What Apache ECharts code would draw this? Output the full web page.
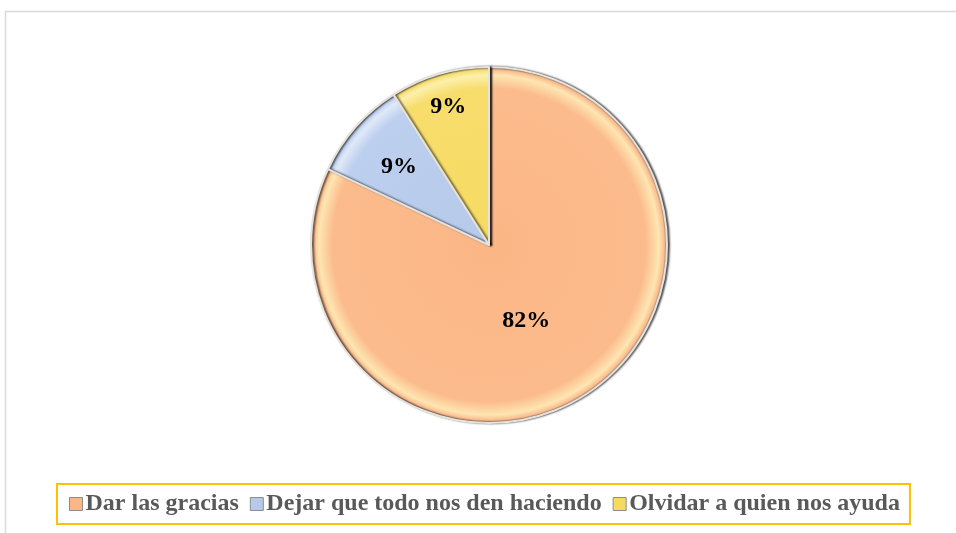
<!DOCTYPE html>
<html>
<head>
<meta charset="utf-8">
<script src="https://cdn.jsdelivr.net/npm/echarts@6/dist/echarts.min.js"></script>
<style>
  html, body { margin: 0; padding: 0; background: #fff; }
  #chart { width: 956px; height: 533px; }
</style>
</head>
<body>
<div id="chart"></div>
<script>
const categories = ['Dar las gracias', 'Dejar que todo nos den haciendo', 'Olvidar a quien nos ayuda']
const percents = [82, 9, 9]

// base, inner, rim light colours per slice (bevel look)
const SLICE_COLORS = [
  ['#fbb686', '#fcbb8c', '#fde6b2'],
  ['#b6c9ea', '#bccfee', '#e0e9f8'],
  ['#f6da62', '#f7dd6c', '#fcf0ac'],
]
// nudge labels to where the original puts them
const LABEL_OFFSETS = [[-12, -2], [-21, -17], [-15, -50]]

const CX = 489, CY = 245, R = 178
const SERIF = '"Liberation Serif", "Times New Roman", serif'

const chart = echarts.init(document.getElementById('chart'), null, { renderer: 'canvas' })

const radial = (c) => ({
  type: 'radial', x: CX, y: CY, r: R, global: true,
  colorStops: [
    { offset: 0, color: c[0] },
    { offset: 0.88, color: c[1] },
    { offset: 0.955, color: c[2] },
    { offset: 0.985, color: c[1] },
    { offset: 1, color: '#7d746c' },
  ],
})

const option = {
  backgroundColor: '#fff',
  animation: false,
  graphic: [{
    type: 'rect',
    shape: { x: 5.5, y: 11.5, width: 1000, height: 600 },
    style: { fill: 'none', stroke: '#d9d9d9', lineWidth: 1.5 },
    silent: true,
  }],
  legend: {
    left: 57,
    top: 484,
    orient: 'horizontal',
    padding: [8, 10, 8, 12],
    borderColor: '#ffc000',
    borderWidth: 2,
    itemWidth: 13,
    itemHeight: 13,
    itemGap: 11,
    icon: 'rect',
    textStyle: {
      fontFamily: SERIF,
      fontWeight: 'bold',
      fontSize: 24,
      color: '#595959',
      padding: [0, 0, 0, -2],
    },
    data: categories.map((name, i) => ({
      name,
      itemStyle: { color: SLICE_COLORS[i][0], borderColor: '#8c8c8c', borderWidth: 1 },
    })),
  },
  series: [{
    type: 'pie',
    center: [CX, CY],
    radius: [0, R],
    startAngle: 90,
    clockwise: true,
    silent: true,
    label: {
      show: true,
      position: 'inside',
      formatter: '{c}%',
      fontFamily: SERIF,
      fontWeight: 'bold',
      fontSize: 24,
      color: '#000',
    },
    labelLine: { show: false },
    itemStyle: {
      borderColor: '#e6e2dc',
      borderWidth: 2,
      shadowBlur: 2,
      shadowColor: 'rgba(0,0,0,0.6)',
      shadowOffsetX: 2,
    },
    data: categories.map((name, i) => ({
      name,
      value: percents[i],
      itemStyle: { color: radial(SLICE_COLORS[i]) },
      label: { offset: LABEL_OFFSETS[i] },
    })),
  }],
}

chart.setOption(option)
</script>
</body>
</html>
